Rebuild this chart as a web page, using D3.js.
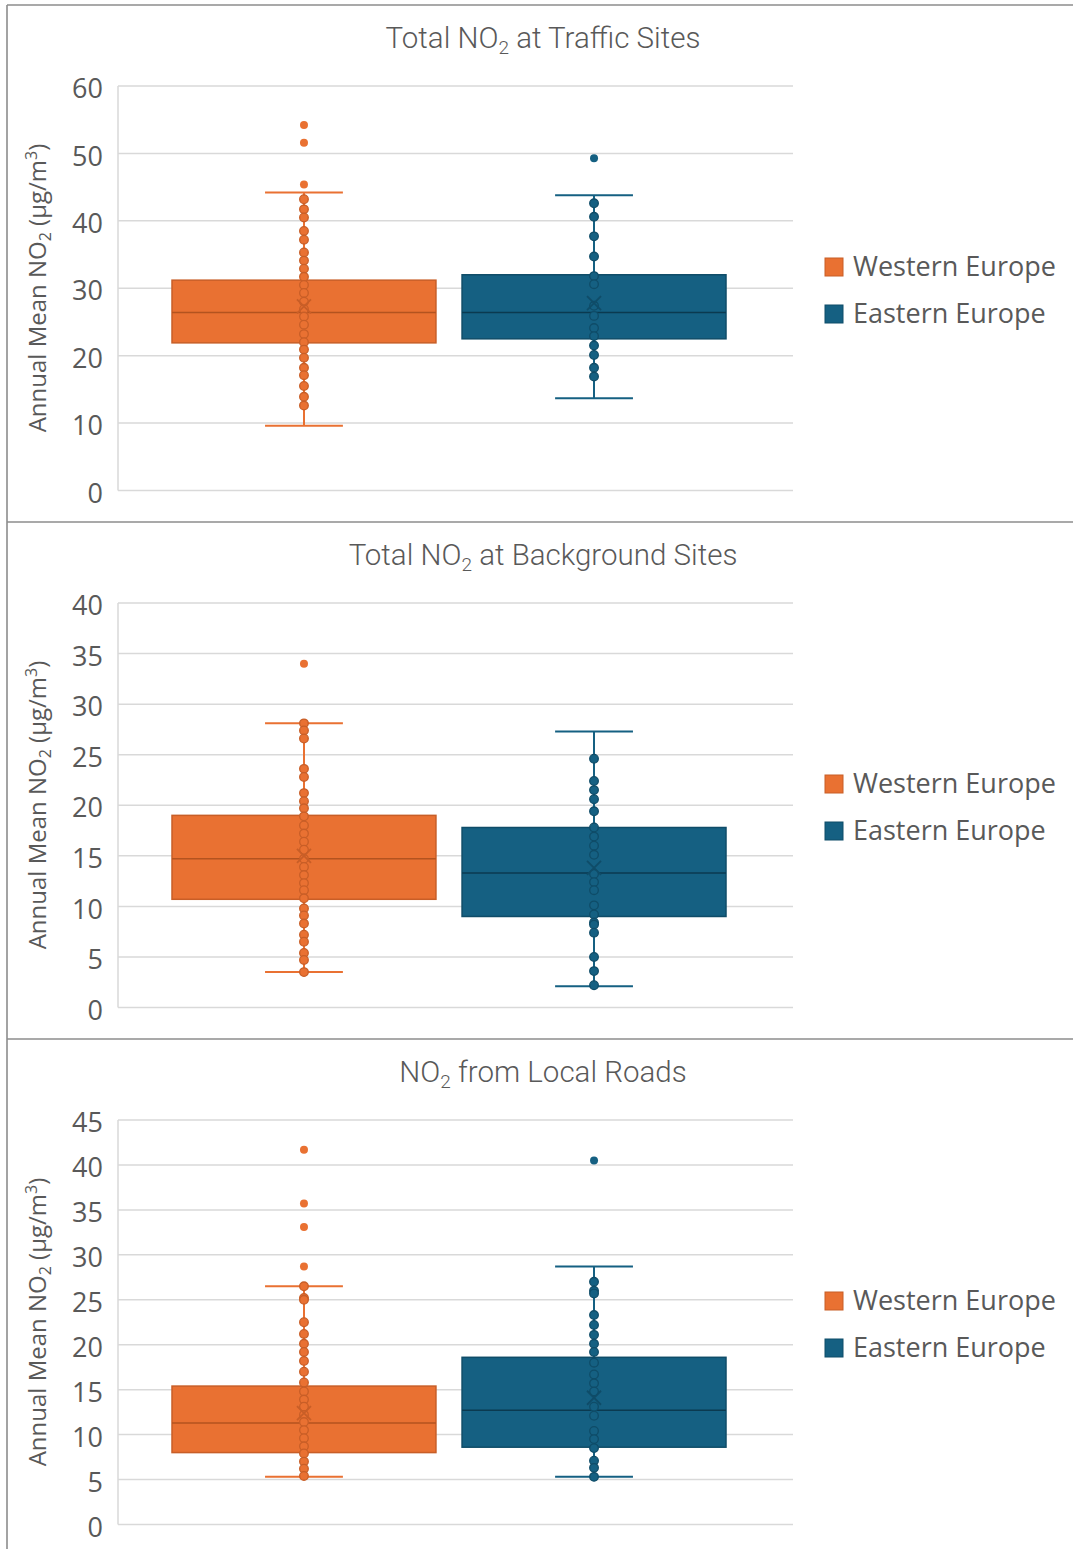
<!DOCTYPE html>
<html>
<head>
<meta charset="utf-8">
<script src="https://cdn.jsdelivr.net/npm/d3@7"></script>
<style>
  html, body { margin: 0; padding: 0; background: #ffffff; }
  svg { display: block; }
</style>
</head>
<body>
<svg id="chart" width="1073" height="1549"></svg>
<script>
// ---- Data -------------------------------------------------------------
const seriesNames = ["Western Europe", "Eastern Europe"];
const seriesColors = ["#E97132", "#156082"];
const seriesEdge = ["#C85E27", "#0F4C68"];
const seriesDark = ["#B3531F", "#0B3A50"];

const panelTitleMain = ["Total NO", "Total NO", "NO"];
const panelTitleTail = [" at Traffic Sites", " at Background Sites", " from Local Roads"];
const axisMax = [60, 40, 45];
const axisStep = [10, 5, 5];

// individual site values (µg/m³)
const trafficWest = [54.2, 51.6, 45.4, 43.2, 41.7, 40.5, 38.5, 37.2, 35.3, 34.1, 32.9, 31.7, 30.5, 29.3, 28.0, 26.9, 25.8, 24.6, 23.2, 22.0, 20.9, 19.7, 18.2, 17.1, 15.5, 13.9, 12.6];
const trafficEast = [49.3, 42.6, 40.6, 37.7, 34.7, 31.8, 30.6, 27.4, 25.9, 24.1, 22.9, 21.5, 20.1, 18.2, 16.9];
const backgroundWest = [34.0, 28.1, 27.4, 26.6, 23.6, 22.8, 21.2, 20.4, 19.7, 18.9, 18.0, 17.2, 16.4, 15.6, 14.7, 13.9, 13.1, 12.3, 11.6, 10.8, 9.8, 9.1, 8.3, 7.2, 6.5, 5.4, 4.7, 3.5];
const backgroundEast = [24.6, 22.4, 21.5, 20.6, 19.4, 17.8, 16.9, 16.0, 15.1, 13.2, 12.4, 11.6, 10.1, 9.2, 8.4, 8.2, 7.4, 5.0, 3.6, 2.2];
const localWest = [41.7, 35.7, 33.1, 28.7, 26.5, 25.2, 25.0, 22.5, 21.2, 20.1, 19.2, 18.2, 17.0, 15.8, 14.8, 13.9, 13.1, 12.2, 11.4, 10.5, 9.6, 8.7, 7.9, 7.0, 6.2, 5.4];
const localEast = [40.5, 27.0, 26.0, 25.7, 23.3, 22.2, 21.1, 20.1, 19.2, 18.0, 16.7, 15.7, 14.8, 13.1, 12.1, 10.4, 9.5, 8.5, 7.1, 6.3, 5.3];

// box statistics per panel: [Western, Eastern]
const q1Values     = [[21.9, 22.5], [10.7, 9.0], [8.0, 8.6]];
const medianValues = [[26.4, 26.4], [14.7, 13.3], [11.3, 12.7]];
const q3Values     = [[31.2, 32.0], [19.0, 17.8], [15.4, 18.6]];
const meanValues   = [[27.3, 27.8], [15.0, 13.8], [12.4, 14.1]];
const whiskerLow   = [[9.6, 13.7], [3.5, 2.1], [5.3, 5.3]];
const whiskerHigh  = [[44.2, 43.8], [28.1, 27.3], [26.5, 28.7]];

const panelPoints = [
  [trafficWest, trafficEast],
  [backgroundWest, backgroundEast],
  [localWest, localEast]
];

// ---- Layout -----------------------------------------------------------
const svg = d3.select("#chart");
const panelTop = [5, 522, 1039];
const plotLeft = 118, plotRight = 793;
const textColor = "#595959";
const gridColor = "#D9D9D9";
const font = "'Open Sans', 'Noto Sans', sans-serif";
const titleFont = "'Roboto', sans-serif";

// outer frame lines
svg.append("line").attr("x1", 7).attr("x2", 7).attr("y1", 5).attr("y2", 1549)
  .attr("stroke", "#8C8C8C").attr("stroke-width", 1.6);
panelTop.forEach(t => {
  svg.append("line").attr("x1", 7).attr("x2", 1073).attr("y1", t).attr("y2", t)
    .attr("stroke", "#8C8C8C").attr("stroke-width", 1.6);
});

const x = d3.scaleBand().domain(seriesNames).range([172, 726]).paddingInner(0.09).paddingOuter(0);

panelTop.forEach((top, p) => {
  const g = svg.append("g");
  const yTop = top + 81, yBottom = top + 485.5;
  const y = d3.scaleLinear().domain([0, axisMax[p]]).range([yBottom, yTop]);
  const ticks = d3.range(0, axisMax[p] + 0.001, axisStep[p]);

  // title with subscript
  const title = g.append("text")
    .attr("x", 543).attr("y", top + 43)
    .attr("text-anchor", "middle")
    .attr("font-family", titleFont).attr("font-size", 29.5)
    .attr("font-weight", 300)
    .attr("fill", textColor);
  title.append("tspan").text(panelTitleMain[p]);
  title.append("tspan").text("2").attr("font-size", 19).attr("dy", 6);
  title.append("tspan").text(panelTitleTail[p]).attr("dy", -6);

  // gridlines
  g.selectAll("line.grid").data(ticks).join("line")
    .attr("class", "grid")
    .attr("x1", plotLeft).attr("x2", plotRight)
    .attr("y1", d => y(d)).attr("y2", d => y(d))
    .attr("stroke", gridColor).attr("stroke-width", 1.5);
  g.append("line")
    .attr("x1", plotLeft).attr("x2", plotLeft)
    .attr("y1", y(axisMax[p])).attr("y2", y(0))
    .attr("stroke", gridColor).attr("stroke-width", 1.5);

  // y axis tick labels
  const axis = g.append("g")
    .attr("transform", `translate(${plotLeft - 15},3)`)
    .call(d3.axisLeft(y).tickValues(ticks).tickSize(0).tickPadding(0).tickFormat(d3.format("d")));
  axis.select(".domain").remove();
  axis.selectAll("text")
    .attr("font-family", font).attr("font-size", 27).attr("fill", textColor);

  // y axis title
  const yt = g.append("text")
    .attr("transform", `translate(46,${top + 283}) rotate(-90)`)
    .attr("text-anchor", "middle")
    .attr("font-family", font).attr("font-size", 24)
    .attr("fill", textColor);
  yt.append("tspan").text("Annual Mean NO");
  yt.append("tspan").text("2").attr("font-size", 16).attr("dy", 5);
  yt.append("tspan").text(" (µg/m").attr("dy", -5);
  yt.append("tspan").text("3").attr("font-size", 16).attr("dy", -9);
  yt.append("tspan").text(")").attr("dy", 9);

  // boxes
  seriesNames.forEach((name, s) => {
    const bx = x(name), bw = x.bandwidth(), cx = bx + bw / 2;
    const capW = bw * 0.295;
    const sg = g.append("g");

    // whisker stems
    sg.append("line").attr("x1", cx).attr("x2", cx)
      .attr("y1", y(q3Values[p][s])).attr("y2", y(whiskerHigh[p][s]))
      .attr("stroke", seriesColors[s]).attr("stroke-width", 2);
    sg.append("line").attr("x1", cx).attr("x2", cx)
      .attr("y1", y(q1Values[p][s])).attr("y2", y(whiskerLow[p][s]))
      .attr("stroke", seriesColors[s]).attr("stroke-width", 2);
    // caps
    [whiskerHigh[p][s], whiskerLow[p][s]].forEach(v => {
      sg.append("line").attr("x1", cx - capW / 2).attr("x2", cx + capW / 2)
        .attr("y1", y(v)).attr("y2", y(v))
        .attr("stroke", seriesColors[s]).attr("stroke-width", 2);
    });

    // box
    sg.append("rect")
      .attr("x", bx).attr("width", bw)
      .attr("y", y(q3Values[p][s]))
      .attr("height", y(q1Values[p][s]) - y(q3Values[p][s]))
      .attr("fill", seriesColors[s])
      .attr("stroke", seriesEdge[s]).attr("stroke-width", 1.5);
    // median
    sg.append("line").attr("x1", bx).attr("x2", bx + bw)
      .attr("y1", y(medianValues[p][s])).attr("y2", y(medianValues[p][s]))
      .attr("stroke", seriesDark[s]).attr("stroke-width", 1.5);

    // points
    const pts = panelPoints[p][s];
    const isOutlier = d => d > whiskerHigh[p][s] || d < whiskerLow[p][s];
    sg.selectAll("circle").data(pts).join("circle")
      .attr("cx", cx).attr("cy", d => y(d))
      .attr("r", d => isOutlier(d) ? 4 : 4.3)
      .attr("fill", seriesColors[s])
      .attr("stroke", d => isOutlier(d) ? "none" : seriesEdge[s])
      .attr("stroke-width", 1.3);

    // mean marker (x)
    const my = y(meanValues[p][s]), m = 7;
    sg.append("path")
      .attr("d", `M${cx - m},${my - m}L${cx + m},${my + m}M${cx - m},${my + m}L${cx + m},${my - m}`)
      .attr("stroke", seriesEdge[s]).attr("stroke-width", 1.8).attr("fill", "none");
  });

  // legend
  const legend = g.append("g");
  seriesNames.forEach((name, s) => {
    const ly = top + 262 + s * 47;
    legend.append("rect")
      .attr("x", 825).attr("y", ly - 9).attr("width", 18).attr("height", 18)
      .attr("fill", seriesColors[s]).attr("stroke", seriesEdge[s]).attr("stroke-width", 1);
    legend.append("text")
      .attr("x", 853).attr("y", ly).attr("dy", "0.35em")
      .attr("font-family", font).attr("font-size", 27)
      .attr("fill", textColor).text(name);
  });
});
</script>
</body>
</html>
